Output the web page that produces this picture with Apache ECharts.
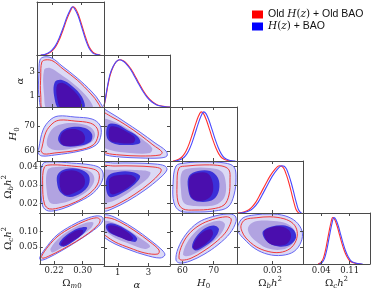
<!DOCTYPE html>
<html><head><meta charset="utf-8">
<script src="https://cdn.jsdelivr.net/npm/echarts@6/dist/echarts.min.js"></script>
<style>html,body{margin:0;padding:0;background:#fff}#c{width:374px;height:291px}</style>
</head><body><div id="c"></div>
<script>
// ---------- axis definitions ----------
const paramRanges = [[0.18,0.36],[0.1,4.4],[56,77.5],[0.015,0.043],[-0.005,0.16]];
const colTicks = [[0.22,0.30],[1,3],[60,70],[0.03],[0.04,0.11]];
const rowTicks = [null,[1,3],[60,70],[0.02,0.03,0.04],[0.05,0.10]];
const tickDecimals = [2,0,0,2,2];
const axisNames = ['{g|Ω}{si|m}{s|0}','{i|α}','{i|H}{s|0}','{g|Ω}{si|b}{i|h}{p|2}','{g|Ω}{si|c}{i|h}{p|2}'];

// ---------- 1D marginal densities [value, density] ----------
const omNew = [[0.19,0],[0.20,0.01],[0.21,0.04],[0.22,0.1],[0.23,0.2],[0.24,0.36],[0.25,0.56],[0.26,0.78],[0.27,0.95],[0.275,1.0],[0.28,0.97],[0.29,0.82],[0.30,0.58],[0.31,0.33],[0.32,0.14],[0.33,0.04],[0.34,0.01],[0.35,0]];
const omOld = [[0.19,0],[0.20,0.005],[0.21,0.03],[0.22,0.08],[0.23,0.17],[0.24,0.32],[0.25,0.52],[0.26,0.74],[0.27,0.92],[0.277,1.0],[0.283,0.97],[0.29,0.86],[0.30,0.63],[0.31,0.38],[0.32,0.17],[0.33,0.06],[0.34,0.015],[0.35,0]];
const alNew = [[0.1,0.02],[0.2,0.2],[0.35,0.48],[0.5,0.7],[0.7,0.86],[0.9,0.96],[1.1,1.0],[1.3,0.98],[1.5,0.93],[1.8,0.81],[2.0,0.7],[2.3,0.52],[2.6,0.35],[2.9,0.21],[3.2,0.11],[3.5,0.05],[3.8,0.02],[4.1,0.005],[4.4,0]];
const alOld = [[0.1,0.01],[0.2,0.17],[0.35,0.45],[0.5,0.67],[0.7,0.85],[0.9,0.96],[1.15,1.0],[1.35,0.98],[1.55,0.93],[1.85,0.81],[2.05,0.7],[2.35,0.52],[2.65,0.35],[2.95,0.21],[3.25,0.11],[3.55,0.05],[3.85,0.02],[4.15,0.005],[4.4,0]];
const h0New = [[57.5,0],[59,0.02],[60,0.05],[61,0.11],[62,0.21],[63,0.36],[64,0.55],[65,0.75],[66,0.92],[66.8,1.0],[67.6,0.96],[68.5,0.83],[69.5,0.64],[70.5,0.44],[71.5,0.27],[72.5,0.14],[73.5,0.06],[75,0.015],[77,0]];
const h0Old = [[57,0],[58.2,0.02],[59.2,0.05],[60.2,0.11],[61.2,0.21],[62.2,0.36],[63.2,0.55],[64.2,0.75],[65.2,0.92],[66,1.0],[66.8,0.96],[67.7,0.83],[68.7,0.64],[69.7,0.44],[70.7,0.27],[71.7,0.14],[72.7,0.06],[74.2,0.015],[76,0]];
const obNew = [[0.016,0],[0.018,0.01],[0.020,0.04],[0.022,0.11],[0.024,0.23],[0.026,0.41],[0.028,0.6],[0.030,0.78],[0.032,0.92],[0.034,1.0],[0.035,0.99],[0.036,0.93],[0.037,0.8],[0.038,0.64],[0.039,0.45],[0.040,0.25],[0.041,0.08],[0.042,0.01],[0.0425,0]];
const obOld = [[0.015,0],[0.017,0.01],[0.019,0.04],[0.021,0.11],[0.023,0.23],[0.025,0.41],[0.027,0.6],[0.029,0.78],[0.031,0.92],[0.033,1.0],[0.034,0.99],[0.035,0.93],[0.036,0.8],[0.037,0.64],[0.038,0.45],[0.039,0.25],[0.040,0.08],[0.041,0.01],[0.0415,0]];
const ocNew = [[0.035,0],[0.042,0.03],[0.048,0.12],[0.054,0.32],[0.06,0.6],[0.066,0.86],[0.071,1.0],[0.076,0.96],[0.082,0.82],[0.088,0.63],[0.094,0.44],[0.1,0.28],[0.106,0.16],[0.112,0.08],[0.12,0.03],[0.13,0.008],[0.142,0]];
const ocOld = [[0.032,0],[0.039,0.03],[0.045,0.12],[0.051,0.32],[0.057,0.6],[0.063,0.86],[0.068,1.0],[0.073,0.96],[0.079,0.82],[0.085,0.63],[0.091,0.44],[0.097,0.28],[0.103,0.16],[0.109,0.08],[0.117,0.03],[0.127,0.008],[0.139,0]];

// ---------- 2D contours [x, y] in data units ----------
// panel (row 1: alpha, col 0: Omega_m0)
const p10Blue = [[0.188,4.0],[0.199,4.24],[0.22,4.15],[0.247,3.5],[0.288,2.5],[0.328,1.34],[0.349,0.5],[0.356,-0.2],[0.2,-0.3],[0.185,1.1],[0.185,2.75]];
const p10Red  = [[0.193,3.82],[0.204,4.0],[0.223,3.9],[0.25,3.24],[0.288,2.33],[0.325,1.18],[0.344,0.43],[0.35,-0.2],[0.2,-0.3],[0.19,1.1],[0.19,2.66]];
const p10Mid  = [[0.199,3.16],[0.215,3.33],[0.242,2.83],[0.282,1.92],[0.317,0.84],[0.328,0.02],[0.21,-0.15],[0.199,1.09]];
const p10Dark = [[0.228,2.17],[0.247,2.33],[0.274,1.84],[0.301,0.93],[0.306,0.02],[0.242,-0.15],[0.226,1.01]];
const p10Core = [[0.234,1.92],[0.25,2.09],[0.274,1.59],[0.296,0.76],[0.296,0.02],[0.247,-0.07],[0.234,0.84]];
// panel (H0, Omega_m0)
const p20Blue = [[0.185,61.2],[0.196,68.3],[0.215,72.3],[0.237,73.9],[0.282,73.5],[0.328,72.7],[0.349,70.3],[0.352,66.4],[0.339,62.4],[0.296,60.0],[0.228,58.4],[0.193,58.0],[0.183,59.2]];
const p20Red  = [[0.193,61.2],[0.204,67.5],[0.223,71.1],[0.242,72.3],[0.282,71.9],[0.323,71.1],[0.341,69.1],[0.344,66.0],[0.331,62.4],[0.293,60.4],[0.228,59.2],[0.199,58.8],[0.191,60.0]];
const p20Mid  = [[0.207,62.4],[0.215,67.5],[0.237,70.3],[0.282,71.1],[0.323,69.5],[0.336,66.4],[0.323,63.2],[0.282,61.2],[0.228,60.4]];
const p20Dark = [[0.237,64.4],[0.247,67.9],[0.274,69.5],[0.309,69.1],[0.328,66.7],[0.323,63.6],[0.29,62.0],[0.253,62.0]];
const p20Core = [[0.242,64.4],[0.25,67.5],[0.274,68.7],[0.298,67.9],[0.309,65.6],[0.304,63.2],[0.274,62.0],[0.25,62.4]];
// panel (Omega_b h^2, Omega_m0)
const p30Blue = [[0.188,0.0414],[0.215,0.0425],[0.269,0.0419],[0.323,0.0409],[0.349,0.0392],[0.358,0.0355],[0.349,0.0301],[0.323,0.0247],[0.282,0.0204],[0.242,0.0172],[0.204,0.0161],[0.188,0.0188],[0.183,0.0301]];
const p30Red  = [[0.193,0.0398],[0.215,0.0409],[0.269,0.0403],[0.317,0.0392],[0.341,0.0376],[0.347,0.0344],[0.339,0.0295],[0.314,0.0247],[0.28,0.0209],[0.242,0.0182],[0.207,0.0172],[0.193,0.0199],[0.188,0.0301]];
const p30Mid  = [[0.202,0.0382],[0.228,0.0398],[0.282,0.0392],[0.323,0.0371],[0.333,0.0328],[0.317,0.0274],[0.282,0.0231],[0.242,0.0204],[0.21,0.0204],[0.199,0.0274]];
const p30Dark = [[0.231,0.036],[0.253,0.0387],[0.29,0.0387],[0.317,0.0355],[0.317,0.0301],[0.296,0.0258],[0.263,0.0236],[0.237,0.0263],[0.228,0.0317]];
const p30Core = [[0.237,0.0355],[0.253,0.0376],[0.282,0.0376],[0.304,0.0344],[0.304,0.0295],[0.282,0.0263],[0.255,0.0247],[0.239,0.0274]];
// panel (Omega_c h^2, Omega_m0)
const p40Blue = [[0.18,0.0168],[0.2015,0.0542],[0.228,0.0885],[0.269,0.1196],[0.309,0.1414],[0.341,0.1508],[0.357,0.1445],[0.352,0.1258],[0.323,0.0978],[0.282,0.0666],[0.242,0.0386],[0.2015,0.0137],[0.183,0.0075]];
const p40Red  = [[0.185,0.0199],[0.204,0.0526],[0.231,0.0853],[0.269,0.1134],[0.309,0.1352],[0.339,0.1445],[0.349,0.1383],[0.344,0.1227],[0.317,0.0947],[0.28,0.0666],[0.242,0.0417],[0.204,0.0199],[0.188,0.0137]];
const p40Mid  = [[0.21,0.0448],[0.237,0.0822],[0.274,0.1103],[0.312,0.129],[0.33,0.129],[0.323,0.1103],[0.285,0.0791],[0.242,0.048],[0.215,0.0324]];
const p40Dark = [[0.234,0.0604],[0.255,0.0885],[0.288,0.1103],[0.312,0.1134],[0.306,0.0978],[0.28,0.0729],[0.247,0.0511]];
const p40Core = [[0.239,0.0604],[0.258,0.0853],[0.285,0.104],[0.301,0.104],[0.296,0.0885],[0.271,0.0698],[0.245,0.0542]];
// panel (H0, alpha)
const p21Blue = [[-0.2,77],[0.49,75.3],[1.47,71.5],[2.45,67.5],[3.42,63.2],[4.14,60.0],[4.2,58.0],[3.75,57.2],[2.45,57.2],[1.14,57.6],[0.23,58.4],[-0.2,60]];
const p21Red  = [[-0.2,75.5],[0.62,73.5],[1.53,70.3],[2.45,66.4],[3.29,62.4],[3.88,59.6],[3.75,58.4],[2.45,58.0],[1.14,58.4],[0.23,59.2],[-0.2,61]];
const p21Mid  = [[-0.2,72.5],[0.82,71.5],[1.66,68.7],[2.58,64.8],[3.23,61.2],[3.1,59.2],[1.79,59.2],[0.49,60.4],[-0.2,63]];
const p21Dark = [[0.36,70.3],[0.88,70.7],[1.6,68.3],[2.32,65.6],[2.45,63.2],[1.79,62.4],[0.82,62.8],[0.3,65.2]];
const p21Core = [[0.49,69.5],[0.95,69.5],[1.6,67.5],[2.12,65.2],[1.99,63.2],[1.14,63.2],[0.49,64.4]];
// panel (Omega_b h^2, alpha)
const p31Blue = [[-0.2,0.0412],[0.82,0.0419],[2.12,0.0419],[3.42,0.0414],[4.07,0.0403],[4.2,0.0382],[3.75,0.0339],[2.77,0.0274],[1.66,0.0215],[0.62,0.0172],[0.1,0.0161],[-0.2,0.02]];
const p31Red  = [[-0.2,0.0395],[0.82,0.0403],[2.12,0.0403],[3.29,0.0398],[3.81,0.0387],[3.75,0.0365],[3.1,0.0312],[2.12,0.0252],[1.14,0.0204],[0.36,0.0177],[-0.2,0.0185]];
const p31Mid  = [[-0.2,0.0372],[0.82,0.0382],[2.12,0.0382],[3.1,0.0371],[2.97,0.0339],[2.12,0.0285],[1.01,0.0225],[0.23,0.0204],[-0.2,0.021]];
const p31Dark = [[0.36,0.0349],[1.01,0.0371],[1.92,0.0371],[2.45,0.0349],[2.12,0.0306],[1.27,0.0258],[0.49,0.0236],[0.23,0.0285]];
const p31Core = [[0.49,0.0339],[1.14,0.0355],[1.86,0.0355],[2.19,0.0333],[1.79,0.0295],[1.14,0.0263],[0.56,0.0252],[0.43,0.0295]];
// panel (Omega_c h^2, alpha)
const p41Blue = [[-0.2,0.15],[0.36,0.1539],[1.14,0.1383],[2.12,0.1103],[3.1,0.076],[3.88,0.0448],[4.07,0.0293],[3.75,0.0199],[2.77,0.0293],[1.79,0.0448],[0.82,0.0635],[0.17,0.0822],[-0.2,0.1]];
const p41Red  = [[-0.2,0.142],[0.43,0.1445],[1.14,0.1321],[2.12,0.104],[3.1,0.0698],[3.68,0.0448],[3.62,0.0324],[2.77,0.0355],[1.79,0.0511],[0.82,0.0698],[0.23,0.0885],[-0.2,0.105]];
const p41Mid  = [[-0.2,0.135],[0.62,0.1321],[1.47,0.1134],[2.45,0.0822],[3.1,0.0573],[2.77,0.048],[1.79,0.0635],[0.82,0.0822],[0.23,0.1009],[-0.2,0.11]];
const p41Dark = [[0.3,0.1258],[0.82,0.1258],[1.6,0.1071],[2.25,0.0822],[2.12,0.0698],[1.27,0.0822],[0.49,0.0978],[0.23,0.1134]];
const p41Core = [[0.36,0.1196],[0.88,0.1196],[1.53,0.104],[1.99,0.0822],[1.79,0.0729],[1.14,0.0853],[0.49,0.1009]];
// panel (Omega_b h^2, H0)
const p32Blue = [[57.93,0.0403],[60.81,0.0419],[67.23,0.0425],[73.65,0.0419],[76.54,0.0398],[77.18,0.0339],[76.54,0.0247],[74.61,0.0182],[70.44,0.0161],[64.02,0.0155],[59.21,0.0161],[57.28,0.0204],[56.96,0.0301]];
const p32Red  = [[58.89,0.0392],[61.46,0.0403],[67.23,0.0409],[72.69,0.0403],[74.93,0.0382],[75.25,0.0328],[74.93,0.0247],[73.33,0.0193],[69.48,0.0172],[64.02,0.0166],[60.17,0.0172],[58.57,0.0209],[58.25,0.0301]];
const p32Mid  = [[59.85,0.0371],[63.06,0.0392],[68.84,0.0392],[72.69,0.0371],[73.97,0.0301],[73.33,0.0231],[70.44,0.0193],[64.02,0.0188],[60.49,0.0204],[59.53,0.0274]];
const p32Dark = [[62.1,0.0349],[64.99,0.0376],[68.84,0.0376],[71.4,0.0339],[71.73,0.0274],[70.12,0.0225],[66.59,0.0209],[63.06,0.0225],[61.78,0.0285]];
const p32Core = [[62.42,0.0344],[64.66,0.0365],[67.87,0.0365],[69.48,0.0328],[69.8,0.0269],[68.52,0.0231],[65.63,0.0215],[63.06,0.0231],[62.1,0.0279]];
// panel (Omega_c h^2, H0)
const p42Blue = [[57.93,0.0075],[58.57,0.0448],[61.13,0.0916],[64.99,0.129],[69.48,0.1477],[74.61,0.157],[76.86,0.1508],[77.18,0.1321],[75.26,0.0947],[71.4,0.0573],[66.91,0.0262],[62.42,0.0044],[59.21,-0.0019]];
const p42Red  = [[58.89,0.0137],[59.53,0.048],[61.78,0.0885],[65.31,0.1196],[69.48,0.1383],[73.97,0.1477],[75.58,0.1414],[75.26,0.1227],[73.65,0.0947],[70.44,0.0635],[66.59,0.0355],[62.74,0.0137],[59.85,0.0075]];
const p42Mid  = [[60.17,0.0262],[61.46,0.0635],[64.34,0.1009],[68.2,0.1258],[72.05,0.1352],[73.65,0.1227],[72.05,0.0885],[68.2,0.0542],[64.02,0.0293],[61.13,0.0199]];
const p42Dark = [[63.06,0.0511],[64.34,0.0822],[67.23,0.1103],[70.12,0.1196],[71.73,0.1071],[70.12,0.076],[66.91,0.0511],[64.34,0.0386]];
const p42Core = [[63.38,0.0511],[64.66,0.0791],[66.91,0.1009],[69.16,0.1071],[69.8,0.0916],[68.2,0.0666],[65.63,0.048],[64.02,0.0417]];
// panel (Omega_c h^2, Omega_b h^2)
const p43Blue = [[0.0154,0.1196],[0.0176,0.1445],[0.0226,0.1539],[0.029,0.157],[0.0354,0.1508],[0.04,0.1321],[0.0426,0.1009],[0.0422,0.0667],[0.0392,0.0355],[0.0341,0.023],[0.0282,0.0262],[0.0226,0.0448],[0.018,0.076],[0.0154,0.1009]];
const p43Red  = [[0.0167,0.1196],[0.0184,0.1383],[0.0231,0.1445],[0.029,0.1477],[0.0349,0.1414],[0.0388,0.1258],[0.0405,0.1009],[0.04,0.0698],[0.0375,0.0448],[0.0332,0.0324],[0.0282,0.0355],[0.0231,0.0511],[0.0188,0.0791],[0.0171,0.1009]];
const p43Mid  = [[0.0197,0.1134],[0.0226,0.1321],[0.029,0.1352],[0.0349,0.129],[0.0388,0.1103],[0.04,0.0822],[0.0383,0.0573],[0.0341,0.0417],[0.0282,0.0448],[0.0239,0.0635],[0.0205,0.0885]];
const p43Dark = [[0.026,0.1009],[0.0298,0.1165],[0.0354,0.1196],[0.0392,0.104],[0.04,0.0791],[0.0375,0.0573],[0.0332,0.0511],[0.029,0.0604],[0.0265,0.0791]];
const p43Core = [[0.0265,0.1009],[0.0294,0.1134],[0.0337,0.1165],[0.0371,0.104],[0.0379,0.0822],[0.0362,0.0604],[0.0328,0.0542],[0.029,0.0604],[0.0269,0.0791]];

// ---------- wiring ----------
const diagCurves = [[omOld,omNew],[alOld,alNew],[h0Old,h0New],[obOld,obNew],[ocOld,ocNew]];
const panels2D = [
  [1,0,p10Blue,p10Red,p10Mid,p10Dark,p10Core],
  [2,0,p20Blue,p20Red,p20Mid,p20Dark,p20Core],
  [3,0,p30Blue,p30Red,p30Mid,p30Dark,p30Core],
  [4,0,p40Blue,p40Red,p40Mid,p40Dark,p40Core],
  [2,1,p21Blue,p21Red,p21Mid,p21Dark,p21Core],
  [3,1,p31Blue,p31Red,p31Mid,p31Dark,p31Core],
  [4,1,p41Blue,p41Red,p41Mid,p41Dark,p41Core],
  [3,2,p32Blue,p32Red,p32Mid,p32Dark,p32Core],
  [4,2,p42Blue,p42Red,p42Mid,p42Dark,p42Core],
  [4,3,p43Blue,p43Red,p43Mid,p43Dark,p43Core]
];

const colEdges = [37,104,170,237,303,370];
const rowEdges = [2,55,107,161,213,266];
const frame = {color:'#4a4a4a', width:1};
const tickFont = {fontFamily:'DejaVu Serif', fontSize:8.5, color:'#222'};
const mathRich = {
  g:{fontFamily:'DejaVu Serif', fontSize:10, lineHeight:14, color:'#222'},
  i:{fontFamily:'DejaVu Serif', fontStyle:'italic', fontSize:10, lineHeight:14, color:'#222'},
  s:{fontFamily:'DejaVu Serif', fontSize:7, verticalAlign:'bottom', color:'#222'},
  si:{fontFamily:'DejaVu Serif', fontStyle:'italic', fontSize:7, verticalAlign:'bottom', color:'#222'},
  p:{fontFamily:'DejaVu Serif', fontSize:7, verticalAlign:'top', color:'#222'}
};
const yNameGap = [0,8,7,23,23];

const grids=[], xAxes=[], yAxes=[], series=[];
function makePanel(r,c){
  const g = grids.length;
  grids.push({left:colEdges[c], top:rowEdges[r], width:colEdges[c+1]-colEdges[c], height:rowEdges[r+1]-rowEdges[r], show:false});
  const xr = paramRanges[c];
  const xt = colTicks[c];
  const base = (pos) => ({
    type:'value', gridIndex:g, position:pos, z:6,
    axisLine:{show:true, onZero:false, lineStyle:frame},
    splitLine:{show:false}
  });
  const xb = Object.assign(base('bottom'), {min:xr[0], max:xr[1],
    axisTick:{show:true, inside:true, length:3, customValues:xt, lineStyle:frame},
    axisLabel:{show:r===4, customValues:xt, margin:2, formatter:v=>v.toFixed(tickDecimals[c]), ...tickFont}});
  if (r===4){ Object.assign(xb,{name:axisNames[c], nameLocation:'middle', nameGap:12, nameTextStyle:{rich:mathRich}}); }
  const xtop = Object.assign(base('top'), {min:xr[0], max:xr[1],
    axisTick:{show:true, inside:true, length:3, customValues:xt, lineStyle:frame}, axisLabel:{show:false}});
  xAxes.push(xb, xtop);
  let yl, yr2;
  if (r===c){
    yl = Object.assign(base('left'), {min:0, max:1.1, axisTick:{show:false}, axisLabel:{show:false}});
    yr2 = Object.assign(base('right'), {min:0, max:1.1, axisTick:{show:false}, axisLabel:{show:false}});
  } else {
    const ry = paramRanges[r], yt = rowTicks[r];
    yl = Object.assign(base('left'), {min:ry[0], max:ry[1],
      axisTick:{show:true, inside:true, length:3, customValues:yt, lineStyle:frame},
      axisLabel:{show:c===0, customValues:yt, margin:2, formatter:v=>v.toFixed(tickDecimals[r]), ...tickFont}});
    if (c===0){ Object.assign(yl,{name:axisNames[r], nameLocation:'middle', nameRotate:90, nameGap:yNameGap[r], nameTextStyle:{rich:mathRich}}); }
    yr2 = Object.assign(base('right'), {min:ry[0], max:ry[1],
      axisTick:{show:true, inside:true, length:3, customValues:yt, lineStyle:frame}, axisLabel:{show:false}});
  }
  yAxes.push(yl, yr2);
  return g;
}

function polygon(g, verts, style, z){
  series.push({type:'custom', xAxisIndex:2*g, yAxisIndex:2*g, clip:true, silent:true, z:z,
    data: verts,
    renderItem:(params, api)=>{
      if (params.dataIndex !== 0) return null;
      const pts = verts.map(v => api.coord(v));
      return {type:'polygon', shape:{points:pts, smooth:0.35}, style:style};
    }});
}

// diagonal panels
for (let k=0;k<5;k++){
  const g = makePanel(k,k);
  const [oldC,newC] = diagCurves[k];
  series.push({type:'line', name:'old', xAxisIndex:2*g, yAxisIndex:2*g, data:oldC, smooth:0.3, showSymbol:false, silent:true,
    itemStyle:{color:'#ff0000'}, lineStyle:{color:'#ff3030', width:1.1}, z:3});
  series.push({type:'line', name:'new', xAxisIndex:2*g, yAxisIndex:2*g, data:newC, smooth:0.3, showSymbol:false, silent:true,
    itemStyle:{color:'#0000ff'}, lineStyle:{color:'#4848ff', width:1.1}, z:3});
}
// 2D panels
panels2D.forEach(p=>{
  const [r,c,blue,red,mid,dark,core] = p;
  const g = makePanel(r,c);
  polygon(g, blue, {fill:'#dbd9f5', stroke:'#6666f4', lineWidth:1}, 2);
  polygon(g, mid,  {fill:'#b1a3e1'}, 2);
  polygon(g, dark, {fill:'#3b30d8'}, 2);
  polygon(g, core, {fill:'#4a0eae'}, 2);
  polygon(g, red,  {fill:'none', stroke:'#f03a3a', lineWidth:1}, 3);
});

const chart = echarts.init(document.getElementById('c'), null, {renderer:'canvas', width:374, height:291});
chart.setOption({
  animation:false,
  backgroundColor:'#ffffff',
  grid: grids, xAxis: xAxes, yAxis: yAxes, series: series,
  legend:{
    data:[{name:'old', icon:'rect'},{name:'new', icon:'rect'}],
    orient:'vertical', left:247, top:4, itemWidth:11, itemHeight:8, itemGap:1, selectedMode:false,
    formatter: n => n==='old' ? 'Old {m|H}{u|(}{m|z}{u|)} + Old BAO' : '{m|H}{u|(}{m|z}{u|)} + BAO',
    textStyle:{fontFamily:'Liberation Sans', fontSize:10.5, color:'#111',
      rich:{m:{fontFamily:'DejaVu Serif', fontStyle:'italic', fontSize:10.5, color:'#111'},
            u:{fontFamily:'DejaVu Serif', fontSize:10.5, color:'#111'}}}
  }
});
</script></body></html>
